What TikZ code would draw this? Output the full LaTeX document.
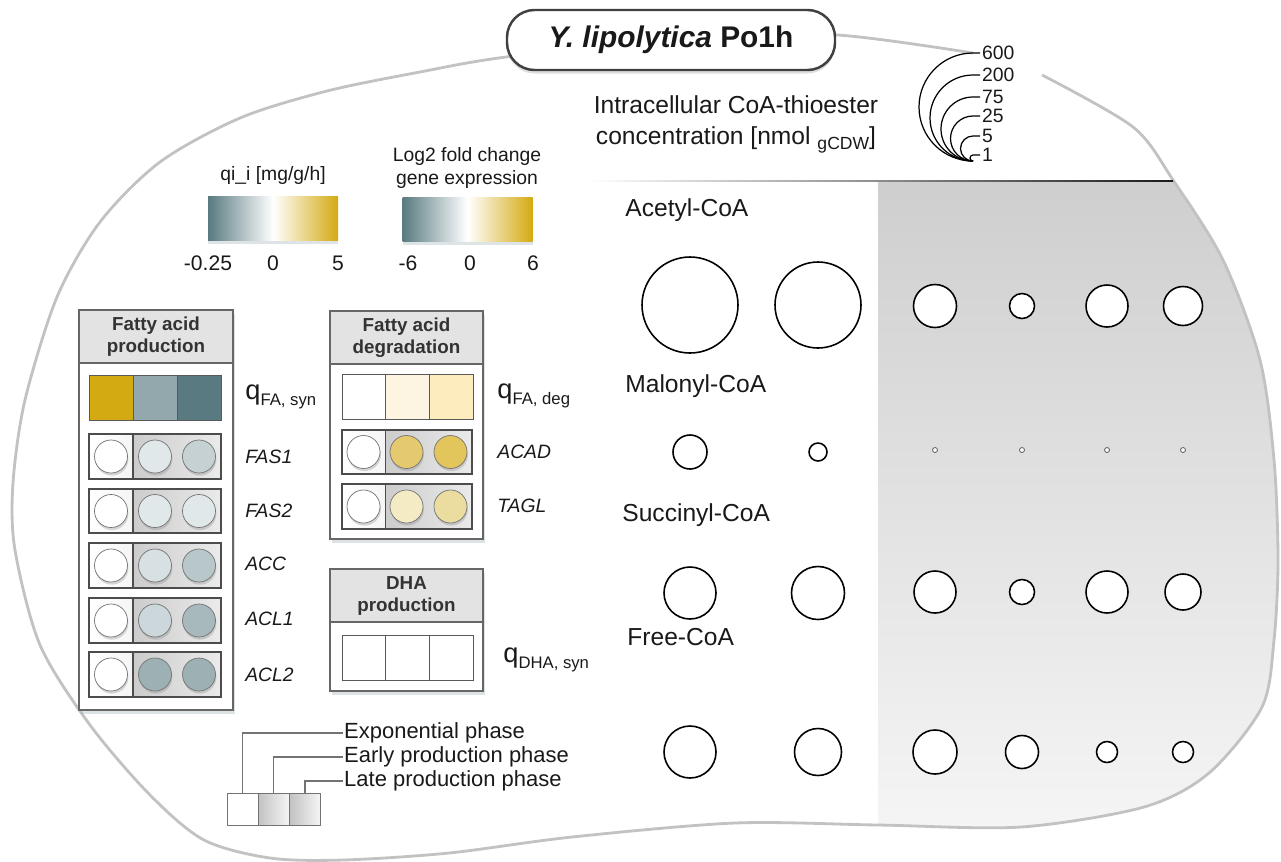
\documentclass[tikz,border=0pt]{standalone}
\usepackage{fontspec}
\setmainfont{Liberation Sans}
\usepackage{tikz}
\usetikzlibrary{shadows}

\definecolor{cbteal}{HTML}{587A80}
\definecolor{cbgold}{HTML}{D4AA12}
\definecolor{fasynmid}{HTML}{93A8AC}
\definecolor{fadegmid}{HTML}{FDF5E1}
\definecolor{fadeghi}{HTML}{FDEDBE}
\definecolor{fasa}{HTML}{E1E8EA}
\definecolor{fasb}{HTML}{C6D1D4}
\definecolor{acca}{HTML}{D7E0E2}
\definecolor{accb}{HTML}{B8C7CA}
\definecolor{acla}{HTML}{CBD7DA}
\definecolor{aclb}{HTML}{A7B9BC}
\definecolor{aclc}{HTML}{9DB0B4}
\definecolor{acada}{HTML}{E5C96E}
\definecolor{acadb}{HTML}{E2C65C}
\definecolor{tagla}{HTML}{F4EAC4}
\definecolor{taglb}{HTML}{EBDCA0}

\newcommand{\qflux}[1]{{\fontsize{15.5}{15}\selectfont q}\raisebox{-3pt}{\fontsize{9.5}{10}\selectfont #1}}

\begin{document}
\begin{tikzpicture}[x=0.2mm, y=-0.2mm,
    every node/.append style={text=black!90},
    cellwall/.style={draw=black!24, line width=1.6pt},
    titlebox/.style={draw=black!75, line width=1.4pt, fill=white, rounded corners=5.5mm,
        minimum width=65.6mm, minimum height=12mm, font=\fontsize{17}{20}\selectfont\bfseries,
        drop shadow={opacity=0.25, shadow xshift=0pt, shadow yshift=-2pt}},
    bigtext/.style={font=\fontsize{14}{18}\selectfont},
    leglab/.style={anchor=west, inner sep=1pt, font=\fontsize{11}{11}\selectfont},
    legarc/.style={draw=black, line width=0.7pt},
    cbar/.style={draw=none, minimum width=26mm, minimum height=8.8mm, inner sep=0pt,
        left color=cbteal, right color=cbgold, middle color=white,
        drop shadow={opacity=0.2, fill=cbteal, shadow xshift=0pt, shadow yshift=-2pt}},
    smalltext/.style={font=\fontsize{11}{13}\selectfont, align=center},
    ticktext/.style={font=\fontsize{12}{12}\selectfont},
    boxframe/.style={draw=black!60, fill=white, line width=0.8pt, inner sep=0pt,
        drop shadow={opacity=0.3, fill=cbteal!70, shadow xshift=1pt, shadow yshift=-2pt}},
    boxhead/.style={draw=black!60, fill=black!11, line width=0.8pt, inner sep=0pt,
        minimum width=30.7mm, minimum height=10.6mm, align=center,
        font=\fontsize{10.7}{12.5}\selectfont\bfseries, text=black!80},
    fluxsq/.style={draw=black!65, fill=#1, minimum width=8.75mm, minimum height=9mm, inner sep=0pt},
    rowframe/.style={draw=black!70, line width=0.6pt},
    gene/.style={circle, draw=black!55, fill=#1, minimum size=6.6mm, inner sep=0pt,
        drop shadow={opacity=0.3, shadow xshift=0.5pt, shadow yshift=-1.5pt}},
    genelab/.style={anchor=west, inner sep=0pt, font=\fontsize{11}{12}\selectfont\itshape},
    qlab/.style={anchor=west, inner sep=0pt},
    metlab/.style={anchor=west, inner sep=0pt, font=\fontsize{14}{16}\selectfont},
    conc/.style={circle, draw=black, line width=0.9pt, fill=white, inner sep=0pt, minimum size=#1*0.2mm},
    tinyconc/.style={circle, draw=black!60, line width=0.5pt, fill=white, inner sep=0pt, minimum size=1mm},
    phasecell/.style={draw=black!55, fill=white, minimum width=6.2mm, minimum height=6.4mm, inner sep=0pt},
    phaselab/.style={anchor=west, inner sep=0.5pt, font=\fontsize{12.5}{14}\selectfont},
    phaseline/.style={draw=black!55, line width=0.6pt}]

\useasboundingbox (0,0) rectangle (1281,861);

% grey part of the cell
\begin{scope}
\clip plot[smooth cycle] coordinates {(1042,75) (1133,127) (1173,180) (1223,260) (1260,360) (1274,460) (1278,560) (1274,640) (1262,707) (1209,773) (1144,807) (1021,827) (878,825) (735,823) (572,837) (449,853) (343,860) (270,858) (204,840) (150,795) (90,725) (40,645) (15,550) (13,483) (25,400) (57,297) (100,222) (160,162) (240,118) (327,91) (420,72) (506,57) (700,35) (838,35) (973,53)};
\shade[top color=black!19, bottom color=black!3] (878,181) rectangle (1290,870);
\end{scope}
\draw[cellwall] plot[smooth] coordinates {(1042,75) (1133,127) (1173,180) (1223,260) (1260,360) (1274,460) (1278,560) (1274,640) (1262,707) (1209,773) (1144,807) (1021,827) (878,825) (735,823) (572,837) (449,853) (343,860) (270,858) (204,840) (150,795) (90,725) (40,645) (15,550) (13,483) (25,400) (57,297) (100,222) (160,162) (240,118) (327,91) (420,72) (506,57) (700,35) (838,35) (973,53)};
\shade[left color=white, right color=black!90] (590,180.5) rectangle (1173,181.7);

\node[titlebox] (title) at (671,40) {\textit{Y. lipolytica} Po1h};

% concentration legend
\node[bigtext, align=center] (conclab) at (736,124) {Intracellular CoA-thioester\\concentration [nmol \raisebox{-2.5pt}{\fontsize{10}{10}\selectfont gCDW}]};
\coordinate (legbase) at (973,161);
\node[leglab] (l600) at (980,53) {600};
\node[leglab] (l200) at (980,75) {200};
\node[leglab] (l75) at (980,97) {75};
\node[leglab] (l25) at (980,116) {25};
\node[leglab] (l5) at (980,136) {5};
\node[leglab] (l1) at (980,155) {1};
\draw[legarc] (legbase) arc[start angle=90, end angle=270, radius=54] -- (l600.west);
\draw[legarc] (legbase) arc[start angle=90, end angle=270, radius=43] -- (l200.west);
\draw[legarc] (legbase) arc[start angle=90, end angle=270, radius=32] -- (l75.west);
\draw[legarc] (legbase) arc[start angle=90, end angle=270, radius=22.5] -- (l25.west);
\draw[legarc] (legbase) arc[start angle=90, end angle=270, radius=12.5] -- (l5.west);
\draw[legarc] (legbase) arc[start angle=90, end angle=270, radius=3] -- (l1.west);

% colour bars
\node[smalltext] (fluxtitle) at (273,175) {qi\_i [mg/g/h]};
\node[cbar] (fluxbar) at (273,218) {};
\node[ticktext] (fluxmin) at (208,263) {-0.25};
\node[ticktext] (fluxzero) at (273,263) {0};
\node[ticktext] (fluxmax) at (338,263) {5};
\node[smalltext] (exprtitle) at (467,168) {Log2 fold change\\gene expression};
\node[cbar] (exprbar) at (467.5,219.5) {};
\node[ticktext] (exprmin) at (408,263) {-6};
\node[ticktext] (exprzero) at (470,263) {0};
\node[ticktext] (exprmax) at (533,263) {6};

% fatty acid production
\node[boxframe, minimum width=30.8mm, minimum height=80mm] (fapframe) at (156,510) {};
\node[boxhead, minimum width=30.8mm] (faphead) at (156,336.5) {Fatty acid\\production};
\node[fluxsq=cbgold] (fapq1) at (111,397.5) {};
\node[fluxsq=fasynmid] (fapq2) at (155,397.5) {};
\node[fluxsq=cbteal] (fapq3) at (199,397.5) {};
\node[qlab] (fapqlab) at (245,397) {\qflux{FA, syn}};

\shade[left color=white, right color=black!4] (89,434) rectangle (133,479);
\shade[left color=black!20, right color=black!8] (133,434) rectangle (221,479);
\draw[rowframe] (89,434) rectangle (221,479) (133,434) -- (133,479);
\node[gene=white] (fas1a) at (111,456.5) {};
\node[gene=fasa] (fas1b) at (155,456.5) {};
\node[gene=fasb] (fas1c) at (199,456.5) {};
\node[genelab] (fas1lab) at (245,457) {FAS1};

\shade[left color=white, right color=black!4] (89,489) rectangle (133,533);
\shade[left color=black!20, right color=black!8] (133,489) rectangle (221,533);
\draw[rowframe] (89,489) rectangle (221,533) (133,489) -- (133,533);
\node[gene=white] (fas2a) at (111,511) {};
\node[gene=fasa] (fas2b) at (155,511) {};
\node[gene=fasa] (fas2c) at (199,511) {};
\node[genelab] (fas2lab) at (245,511) {FAS2};

\shade[left color=white, right color=black!4] (89,543) rectangle (133,588);
\shade[left color=black!20, right color=black!8] (133,543) rectangle (221,588);
\draw[rowframe] (89,543) rectangle (221,588) (133,543) -- (133,588);
\node[gene=white] (acca) at (111,565.5) {};
\node[gene=acca] (accb) at (155,565.5) {};
\node[gene=accb] (accc) at (199,565.5) {};
\node[genelab] (acclab) at (245,564) {ACC};

\shade[left color=white, right color=black!4] (89,598) rectangle (133,643);
\shade[left color=black!20, right color=black!8] (133,598) rectangle (221,643);
\draw[rowframe] (89,598) rectangle (221,643) (133,598) -- (133,643);
\node[gene=white] (acl1a) at (111,620.5) {};
\node[gene=acla] (acl1b) at (155,620.5) {};
\node[gene=aclb] (acl1c) at (199,620.5) {};
\node[genelab] (acl1lab) at (245,619) {ACL1};

\shade[left color=white, right color=black!4] (89,652) rectangle (133,697);
\shade[left color=black!20, right color=black!8] (133,652) rectangle (221,697);
\draw[rowframe] (89,652) rectangle (221,697) (133,652) -- (133,697);
\node[gene=white] (acl2a) at (111,674.5) {};
\node[gene=aclc] (acl2b) at (155,674.5) {};
\node[gene=aclc] (acl2c) at (199,674.5) {};
\node[genelab] (acl2lab) at (245,675) {ACL2};

% fatty acid degradation
\node[boxframe, minimum width=30.6mm, minimum height=45.6mm] (fadframe) at (406.5,425) {};
\node[boxhead, minimum width=30.6mm] (fadhead) at (406.5,337.5) {Fatty acid\\degradation};
\node[fluxsq=white] (fadq1) at (364,396.5) {};
\node[fluxsq=fadegmid] (fadq2) at (407.5,396.5) {};
\node[fluxsq=fadeghi] (fadq3) at (451,396.5) {};
\node[qlab] (fadqlab) at (497,396) {\qflux{FA, deg}};

\shade[left color=white, right color=black!4] (342,430) rectangle (385.5,474);
\shade[left color=black!20, right color=black!8] (385.5,430) rectangle (472,474);
\draw[rowframe] (342,430) rectangle (472,474) (385.5,430) -- (385.5,474);
\node[gene=white] (acada) at (363.5,452) {};
\node[gene=acada] (acadb) at (406.5,452) {};
\node[gene=acadb] (acadc) at (450.5,452) {};
\node[genelab] (acadlab) at (497,452) {ACAD};

\shade[left color=white, right color=black!4] (342,484) rectangle (385.5,529);
\shade[left color=black!20, right color=black!8] (385.5,484) rectangle (472,529);
\draw[rowframe] (342,484) rectangle (472,529) (385.5,484) -- (385.5,529);
\node[gene=white] (tagla) at (363.5,506.5) {};
\node[gene=tagla] (taglb) at (406.5,506.5) {};
\node[gene=taglb] (taglc) at (450.5,506.5) {};
\node[genelab] (tagllab) at (497,506) {TAGL};

% DHA production
\node[boxframe, minimum width=30.6mm, minimum height=24.4mm] (dhaframe) at (406.5,630) {};
\node[boxhead, minimum width=30.6mm] (dhahead) at (406.5,595.5) {DHA\\production};
\node[fluxsq=white] (dhaq1) at (364,657.5) {};
\node[fluxsq=white] (dhaq2) at (407.5,657.5) {};
\node[fluxsq=white] (dhaq3) at (451,657.5) {};
\node[qlab] (dhaqlab) at (503,660) {\qflux{DHA, syn}};

% CoA-thioesters
\node[metlab] (acetyl) at (625,210) {Acetyl-CoA};
\node[conc=96] (ac1) at (690,305) {};
\node[conc=86] (ac2) at (818,305) {};
\node[conc=43] (ac3) at (935,306) {};
\node[conc=25] (ac4) at (1022,306) {};
\node[conc=42] (ac5) at (1107,306) {};
\node[conc=39] (ac6) at (1183,306) {};

\node[metlab] (malonyl) at (625,386) {Malonyl-CoA};
\node[conc=34] (mal1) at (690,452) {};
\node[conc=18] (mal2) at (818,452) {};
\node[tinyconc] (mal3) at (935,450) {};
\node[tinyconc] (mal4) at (1022,450) {};
\node[tinyconc] (mal5) at (1107,450) {};
\node[tinyconc] (mal6) at (1183,450) {};

\node[metlab] (succinyl) at (622,515) {Succinyl-CoA};
\node[conc=52] (suc1) at (690,593) {};
\node[conc=53] (suc2) at (818,593) {};
\node[conc=42] (suc3) at (935,592) {};
\node[conc=25] (suc4) at (1022,592) {};
\node[conc=42] (suc5) at (1107,592) {};
\node[conc=36] (suc6) at (1183,592) {};

\node[metlab] (freecoa) at (627,637) {Free-CoA};
\node[conc=52] (free1) at (690,752) {};
\node[conc=47] (free2) at (818,752) {};
\node[conc=44] (free3) at (935,752) {};
\node[conc=33] (free4) at (1022,752) {};
\node[conc=21] (free5) at (1107,752) {};
\node[conc=21] (free6) at (1183,752) {};

% phase legend
\node[phasecell] (expcell) at (242.5,809) {};
\node[phasecell, left color=black!24, right color=black!4] (earlycell) at (273.5,809) {};
\node[phasecell, left color=black!24, right color=black!4] (latecell) at (305,809) {};
\node[phaselab] (explab) at (343,733) {Exponential phase};
\node[phaselab] (earlylab) at (343,757) {Early production phase};
\node[phaselab] (latelab) at (343,781) {Late production phase};
\draw[phaseline] (expcell.north) |- (explab.west);
\draw[phaseline] (earlycell.north) |- (earlylab.west);
\draw[phaseline] (latecell.north) |- (latelab.west);
\end{tikzpicture}
\end{document}
